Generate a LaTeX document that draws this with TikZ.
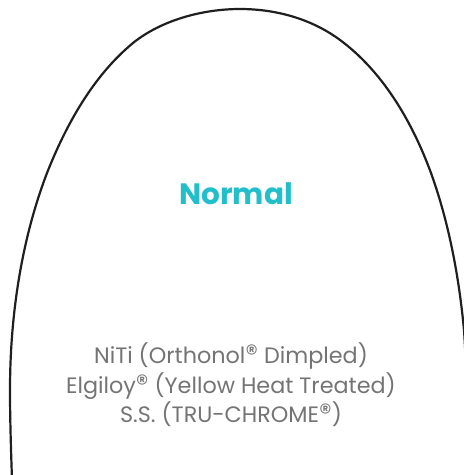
\documentclass[tikz,border=0pt]{standalone}
\usepackage{fontspec}
\setmainfont{Poppins}
\definecolor{teal1}{HTML}{22BFCB}
\definecolor{greytxt}{HTML}{747474}
\newcommand{\regmark}{\raisebox{0.1ex}{\fontsize{25}{25}\selectfont ®}}
\begin{document}
\begin{tikzpicture}[x=1pt,y=-1pt,
  archline/.style={line width=2.2pt,draw=black!88},
  title/.style={text=teal1,font=\fontsize{29.5}{32}\selectfont\bfseries,inner sep=0pt},
  info/.style={text=greytxt,font=\fontsize{22.3}{29.5}\selectfont,align=center,inner sep=0pt}]
\useasboundingbox (0,0) rectangle (464,475);
\begin{scope}
\clip (0,0) rectangle (464,475);
\draw[archline] (12,480) .. controls (11,450) and (10,420) .. (10,390)
  .. controls (10,317) and (21,241) .. (47,173)
  .. controls (66,125) and (93,76) .. (133,43)
  .. controls (161.5,20) and (203,9) .. (240,9)
  .. controls (278,9) and (315,20) .. (344,43)
  .. controls (385,75) and (413,124) .. (431,173)
  .. controls (449,223) and (459,277) .. (464,330)
  .. controls (466,360) and (467,390) .. (467,420)
  .. controls (467,440) and (466,460) .. (466,480);
\end{scope}
\node[title] (t) at (236,194) {Normal};
\node[info] (l) at (231,385) {NiTi (Orthonol\regmark{} Dimpled)\\Elgiloy\regmark{} (Yellow Heat Treated)\\S.S. (TRU-CHROME\regmark)};
\end{tikzpicture}
\end{document}
